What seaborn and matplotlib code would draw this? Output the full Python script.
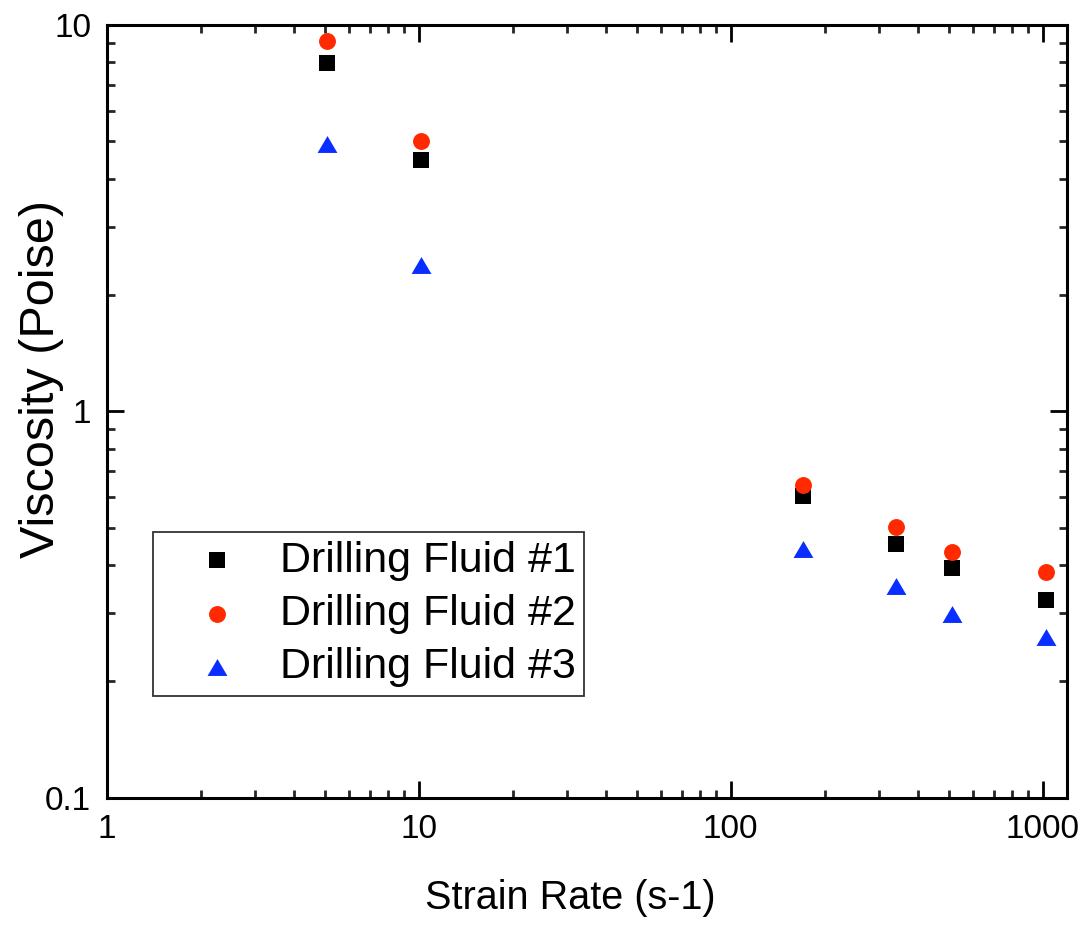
import matplotlib
matplotlib.use("Agg")
import matplotlib.pyplot as plt
import matplotlib.ticker as mticker
import seaborn as sns
import pandas as pd
import numpy as np

strain_rate = [5.1, 10.2, 170, 340, 511, 1022]
fluid1 = [7.97, 4.48, 0.603, 0.453, 0.393, 0.325]
fluid2 = [9.11, 5.01, 0.645, 0.503, 0.433, 0.383]
fluid3 = [4.93, 2.39, 0.441, 0.354, 0.298, 0.261]
labels = ["Drilling Fluid #1", "Drilling Fluid #2", "Drilling Fluid #3"]
x_ticks = [1, 10, 100, 1000]
x_tick_labels = ["1", "10", "100", "1000"]
y_ticks = [0.1, 1, 10]
y_tick_labels = ["0.1", "1", "10"]

rows = []
for lab, vals in zip(labels, [fluid1, fluid2, fluid3]):
    for x, y in zip(strain_rate, vals):
        rows.append({"Strain Rate": x, "Viscosity": y, "Fluid": lab})
df = pd.DataFrame(rows)

sns.set_theme(style="ticks")
plt.rcParams['font.family'] = ['Liberation Sans', 'DejaVu Sans']

fig = plt.figure(figsize=(10.88, 9.26), dpi=100)
ax = fig.add_axes([0.098, 0.1386, 0.883, 0.8344])

tri = [(0, 0.85), (-1, -0.85), (1, -0.85)]
palette = {labels[0]: "#000000", labels[1]: "#FF2A00", labels[2]: "#0A2EFF"}
markers = {labels[0]: "s", labels[1]: "o", labels[2]: tri}
sizes_map = {labels[0]: 118, labels[1]: 148, labels[2]: 205}

for lab in labels:
    sub = df[df["Fluid"] == lab]
    sns.scatterplot(data=sub, x="Strain Rate", y="Viscosity", color=palette[lab],
                    marker=markers[lab], s=sizes_map[lab], linewidth=0,
                    label=lab, ax=ax)

ax.set_xscale("log")
ax.set_yscale("log")
ax.set_xlim(1, 1200)
ax.set_ylim(0.1, 10)

ax.xaxis.set_major_locator(mticker.FixedLocator(x_ticks))
ax.xaxis.set_major_formatter(mticker.FixedFormatter(x_tick_labels))
ax.yaxis.set_major_locator(mticker.FixedLocator(y_ticks))
ax.yaxis.set_major_formatter(mticker.FixedFormatter(y_tick_labels))
ax.xaxis.set_minor_locator(mticker.LogLocator(base=10, subs=np.arange(2, 10)))
ax.yaxis.set_minor_locator(mticker.LogLocator(base=10, subs=np.arange(2, 10)))
ax.xaxis.set_minor_formatter(mticker.NullFormatter())
ax.yaxis.set_minor_formatter(mticker.NullFormatter())

for s in ax.spines.values():
    s.set_linewidth(2.2)
    s.set_color("black")
    s.set_visible(True)

ax.tick_params(which="major", direction="in", length=12, width=2.0,
               top=True, right=True, labelsize=24, colors="black")
ax.tick_params(axis="y", which="major", pad=11)
ax.tick_params(axis="x", which="major", pad=12)
ax.tick_params(which="minor", direction="in", length=6, width=2.0,
               top=True, right=True)

ax.set_xlabel("Strain Rate (s-1)", fontsize=28.5, color="black")
ax.set_ylabel("Viscosity (Poise)", fontsize=35, color="black")
ax.xaxis.set_label_coords(0.483, -0.105)
ax.xaxis.label.set_va("top")
ax.yaxis.set_label_coords(-0.0444, 0.542)

leg = ax.legend(loc="lower left", bbox_to_anchor=(0.0479, 0.1316), borderaxespad=0,
                fontsize=31, frameon=True, fancybox=False, shadow=False,
                handletextpad=0.17, labelspacing=0.31, borderpad=0.2,
                handlelength=2.58)
leg.get_frame().set_edgecolor("black")
leg.get_frame().set_linewidth(1.3)
for t in leg.get_texts():
    t.set_color("black")

fig.savefig("out.png", dpi=100)
